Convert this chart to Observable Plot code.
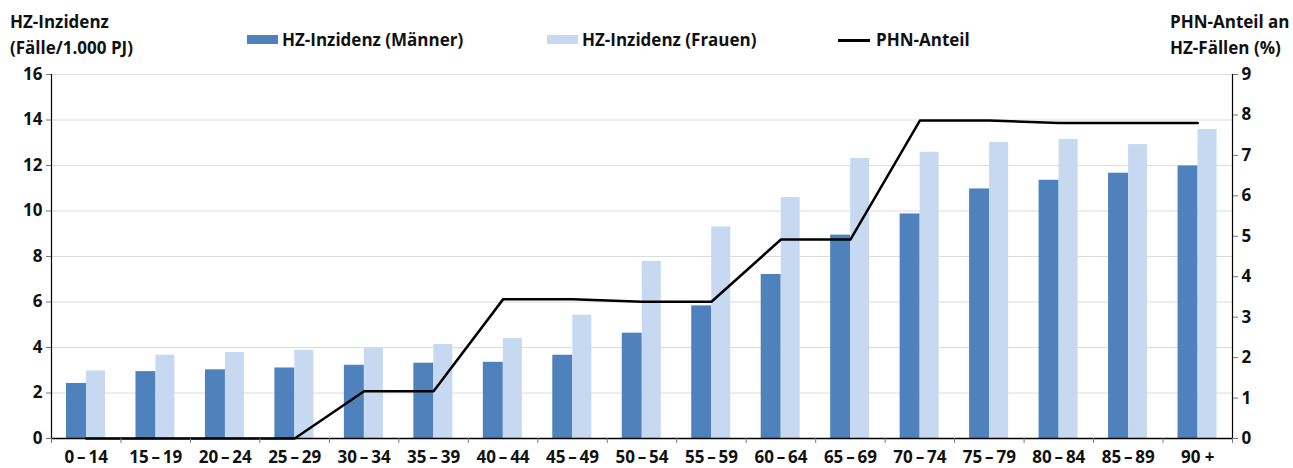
<!DOCTYPE html>
<html>
<head>
<meta charset="utf-8">
<script src="https://cdn.jsdelivr.net/npm/d3@7"></script>
<script src="https://cdn.jsdelivr.net/npm/@observablehq/plot@0.6"></script>
<style>
  body { margin: 0; background: #fff; }
  #wrap { position: relative; width: 1293px; height: 468px; font-family: "Open Sans", sans-serif; font-weight: 700; color: #111; }
  .t { position: absolute; font-size: 17px; line-height: 26px; white-space: nowrap; }
  .sw { position: absolute; }
</style>
</head>
<body>
<div id="wrap">
  <div class="t" style="left:10px;top:9px;">HZ-Inzidenz<br>(Fälle/1.000 PJ)</div>
  <div class="t" style="left:1170px;top:9px;">PHN-Anteil an<br>HZ-Fällen (%)</div>
  <div class="sw" style="left:247px;top:35px;width:31px;height:9px;background:#4F81BD;"></div>
  <div class="t" style="left:282px;top:27px;">HZ-Inzidenz (Männer)</div>
  <div class="sw" style="left:547px;top:35px;width:31px;height:9px;background:#C6D9F1;"></div>
  <div class="t" style="left:582px;top:27px;">HZ-Inzidenz (Frauen)</div>
  <div class="sw" style="left:838px;top:39px;width:32px;height:2.5px;background:#000;"></div>
  <div class="t" style="left:876px;top:27px;">PHN-Anteil</div>
</div>
<script>
const ages = ["0\u2009\u2013\u200914","15\u2009\u2013\u200919","20\u2009\u2013\u200924","25\u2009\u2013\u200929","30\u2009\u2013\u200934","35\u2009\u2013\u200939","40\u2009\u2013\u200944","45\u2009\u2013\u200949","50\u2009\u2013\u200954","55\u2009\u2013\u200959","60\u2009\u2013\u200964","65\u2009\u2013\u200969","70\u2009\u2013\u200974","75\u2009\u2013\u200979","80\u2009\u2013\u200984","85\u2009\u2013\u200989","90 +"];
const maenner = [2.42, 2.94, 3.02, 3.10, 3.22, 3.31, 3.35, 3.66, 4.63, 5.83, 7.21, 8.94, 9.87, 10.97, 11.35, 11.66, 11.98];
const frauen  = [2.97, 3.66, 3.78, 3.88, 3.97, 4.13, 4.40, 5.42, 7.79, 9.30, 10.59, 12.31, 12.58, 13.02, 13.14, 12.92, 13.58];
const phn     = [0, 0, 0, 0, 1.17, 1.17, 3.44, 3.44, 3.38, 3.38, 4.92, 4.92, 7.86, 7.86, 7.80, 7.80, 7.80];
const leftTicks = [0, 2, 4, 6, 8, 10, 12, 14, 16];
const rightTicks = [0, 1, 2, 3, 4, 5, 6, 7, 8, 9];

const W = 1293, H = 468, ML = 51, MR = 61, MT = 74, MB = 30;
const bw = (W - ML - MR) / ages.length;
const k = 16 / 9; // right-axis to left-axis conversion
const data = ages.map((a, i) => ({age: a, m: maenner[i], f: frauen[i], p: phn[i]}));
const pxPerUnit = (H - MT - MB) / 16;

const chart = Plot.plot({
  width: W, height: H,
  marginLeft: ML, marginRight: MR, marginTop: MT, marginBottom: MB,
  style: {fontFamily: "'Open Sans', sans-serif", fontSize: "17px", fontWeight: "700", color: "#111", background: "transparent"},
  x: {type: "band", domain: ages, padding: 0, round: false, label: null},
  y: {domain: [0, 16], label: null},
  marks: [
    Plot.ruleY(leftTicks.filter(d => d > 0), {stroke: "#dcdcdc", strokeWidth: 1}),
    Plot.barY(data, {x: "age", y: "m", fill: "#4F81BD", insetLeft: 15, insetRight: bw - 35}),
    Plot.barY(data, {x: "age", y: "f", fill: "#C6D9F1", insetLeft: 35, insetRight: bw - 54}),
    Plot.lineY(data, {x: "age", y: d => d.p * k, stroke: "#000", strokeWidth: 2.5}),
    Plot.ruleY([0], {stroke: "#000", strokeWidth: 1.5}),
    Plot.ruleX([ages[0]], {dx: -bw / 2, stroke: "#000", strokeWidth: 1.2}),
    Plot.ruleX([ages[ages.length - 1]], {dx: bw / 2, stroke: "#000", strokeWidth: 1.2}),
    Plot.ruleX(ages, {dx: -bw / 2, y1: 0, y2: -5 / pxPerUnit, stroke: "#777"}),
    Plot.ruleX([ages[ages.length - 1]], {dx: bw / 2, y1: 0, y2: -5 / pxPerUnit, stroke: "#777"}),
    Plot.axisY(leftTicks, {anchor: "left", tickSize: 5, tickPadding: 4, label: null, stroke: "#777"}),
    Plot.axisY(rightTicks.map(v => v * k), {anchor: "right", tickSize: 5, tickPadding: 4, label: null, stroke: "#777", tickFormat: d => String(Math.round(d / k))}),
    Plot.axisX({tickSize: 0, tickPadding: 12, label: null})
  ]
});
chart.style.position = "absolute";
chart.style.left = "0px";
chart.style.top = "0px";
document.getElementById("wrap").prepend(chart);
</script>
</body>
</html>
